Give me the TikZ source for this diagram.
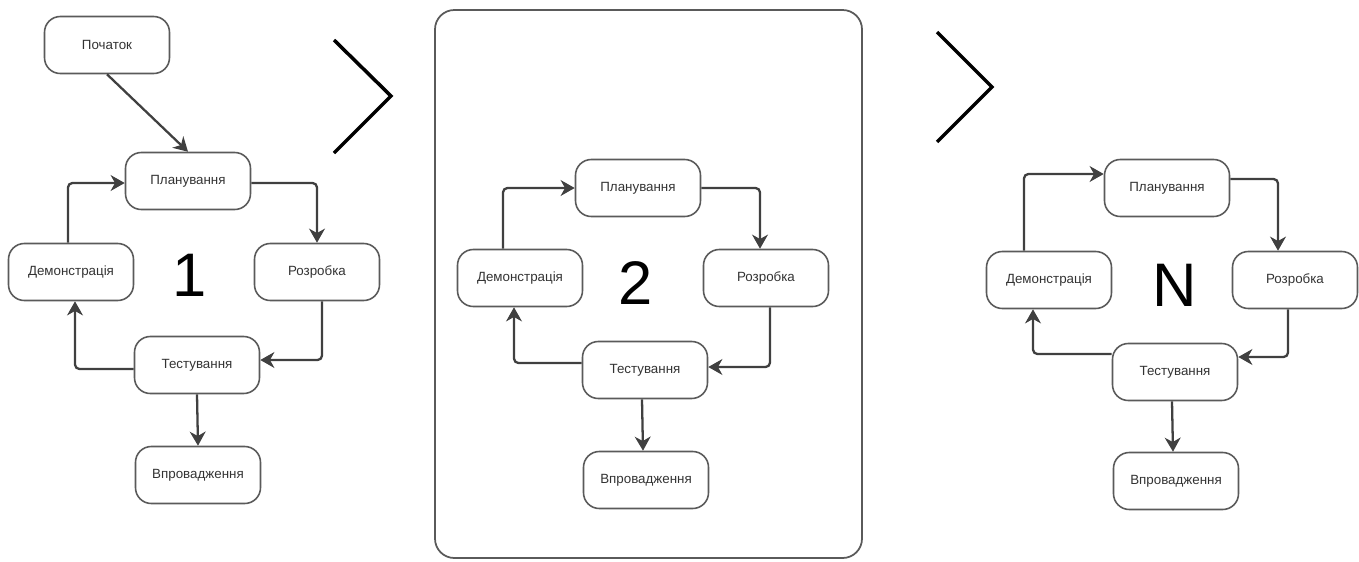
\documentclass[tikz,border=0pt]{standalone}
\usepackage{fontspec}
\setmainfont{Liberation Sans}
\usetikzlibrary{arrows.meta}

\definecolor{boxline}{HTML}{5A5A5A}
\definecolor{linkline}{HTML}{404040}
\definecolor{labeltext}{HTML}{333333}

\begin{document}
\begin{tikzpicture}[>=Stealth,
  stage/.style={draw=boxline,line width=0.9pt,rounded corners=9pt,fill=white,minimum width=2.5cm,minimum height=1.14cm,inner sep=1pt,align=center,font=\fontsize{7.6}{9}\selectfont,text=labeltext},
  link/.style={draw=linkline,line width=1.3pt,rounded corners=2.5pt,-{Stealth[length=8pt,width=9pt,inset=2.5pt]}},
  cyclenum/.style={font=\fontsize{35}{40}\selectfont},
  chevron/.style={line width=2pt},
  frame/.style={draw=boxline,line width=1pt,rounded corners=11pt}]
\useasboundingbox (0,0) rectangle (27.18,-11.22);

% first iteration
\node[stage] (start1) at (2.14,-0.90) {Початок};
\node[stage] (plan1) at (3.76,-3.62) {Планування};
\node[stage] (demo1) at (1.42,-5.44) {Демонстрація};
\node[stage] (dev1) at (6.34,-5.44) {Розробка};
\node[stage] (test1) at (3.94,-7.30) {Тестування};
\node[stage] (impl1) at (3.96,-9.50) {Впровадження};
\node[cyclenum] (num1) at (3.80,-5.50) {1};
\draw[link] (start1.south) -- (plan1.north);
\draw[link] ([xshift=-0.06cm]demo1.north) |- ([yshift=-0.04cm]plan1.west);
\draw[link] ([yshift=-0.04cm]plan1.east) -| (dev1.north);
\draw[link] ([xshift=0.1cm]dev1.south) |- ([yshift=0.1cm]test1.east);
\draw[link] ([yshift=-0.08cm]test1.west) -| ([xshift=0.08cm]demo1.south);
\draw[link] (test1.south) -- (impl1.north);

\draw[chevron] (6.68,-0.80) -- (7.82,-1.92) -- (6.68,-3.06);

% second iteration
\draw[frame] (8.70,-0.20) rectangle (17.24,-11.16);
\node[stage] (plan2) at (12.76,-3.76) {Планування};
\node[stage] (demo2) at (10.40,-5.56) {Демонстрація};
\node[stage] (dev2) at (15.32,-5.56) {Розробка};
\node[stage] (test2) at (12.90,-7.40) {Тестування};
\node[stage] (impl2) at (12.92,-9.60) {Впровадження};
\node[cyclenum] (num2) at (12.72,-5.66) {2};
\draw[link] ([xshift=-0.34cm]demo2.north) |- (plan2.west);
\draw[link] (plan2.east) -| ([xshift=-0.12cm]dev2.north);
\draw[link] ([xshift=0.08cm]dev2.south) |- ([yshift=0.06cm]test2.east);
\draw[link] ([yshift=0.14cm]test2.west) -| ([xshift=-0.12cm]demo2.south);
\draw[link] ([xshift=-0.06cm]test2.south) -- ([xshift=-0.06cm]impl2.north);

\draw[chevron] (18.74,-0.64) -- (19.84,-1.74) -- (18.74,-2.84);

% last iteration
\node[stage] (planN) at (23.34,-3.76) {Планування};
\node[stage] (demoN) at (20.98,-5.60) {Демонстрація};
\node[stage] (devN) at (25.90,-5.60) {Розробка};
\node[stage] (testN) at (23.50,-7.44) {Тестування};
\node[stage] (implN) at (23.52,-9.62) {Впровадження};
\node[cyclenum] (numN) at (23.50,-5.70) {N};
\draw[link] ([xshift=-0.50cm]demoN.north) |- ([yshift=0.28cm]planN.west);
\draw[link] ([yshift=0.18cm]planN.east) -| ([xshift=-0.34cm]devN.north);
\draw[link] ([xshift=-0.14cm]devN.south) |- ([yshift=0.30cm]testN.east);
\draw[link] ([yshift=0.36cm]testN.west) -| ([xshift=-0.32cm]demoN.south);
\draw[link] ([xshift=-0.06cm]testN.south) -- ([xshift=-0.06cm]implN.north);
\end{tikzpicture}
\end{document}
